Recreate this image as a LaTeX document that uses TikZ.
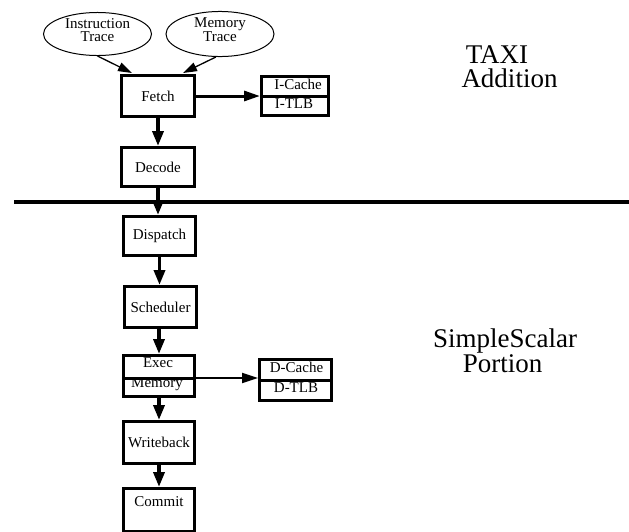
\documentclass[tikz,border=0pt]{standalone}
\usepackage{fontspec}
\setmainfont{Liberation Serif}
\usetikzlibrary{arrows.meta,shapes.geometric}
\tikzset{
  stagebox/.style={draw, line width=3pt, inner sep=0pt, minimum width=72pt, minimum height=41pt, font=\fontsize{15}{15}\selectfont},
  cachebox/.style={draw, line width=3pt, inner sep=0pt},
  tracenode/.style={draw, ellipse, line width=1pt, inner sep=0pt, minimum width=108pt, minimum height=41pt, align=center, font=\fontsize{15}{12.5}\selectfont},
  lbl/.style={inner sep=0pt, font=\fontsize{15}{15}\selectfont},
  big/.style={inner sep=0pt, anchor=base, font=\fontsize{27}{27}\selectfont},
  flow/.style={line width=3.5pt, -{Triangle[length=15pt,width=11pt]}},
  side/.style={line width=3pt, -{Triangle[length=16pt,width=10pt]}},
  sidethin/.style={line width=2pt, -{Triangle[length=16pt,width=10pt]}},
  thinarrow/.style={line width=1.3pt, -{Triangle[length=14pt,width=9pt]}},
}
\begin{document}
\begin{tikzpicture}[x=1pt,y=-1pt]
\useasboundingbox (0,0) rectangle (629,531);
\clip (0,0) rectangle (629,531);

% trace inputs
\node[tracenode, text depth=8pt] (it) at (97.5,34) {Instruction\\Trace};
\node[tracenode, text depth=8pt] (mt) at (220,34) {Memory\\Trace};

% stages
\node[stagebox, minimum width=73pt, minimum height=41pt] (fetch) at (158,96) {Fetch};
\node[stagebox, minimum width=73pt, minimum height=39pt] (decode) at (158,167) {Decode};
\node[stagebox, minimum width=72pt, minimum height=39pt] (dispatch) at (159.5,236) {Dispatch};
\node[stagebox, minimum width=72pt, minimum height=41pt] (sched) at (160.5,307) {Scheduler};
\node[stagebox, minimum width=71pt, minimum height=41pt] (exec) at (159,376) {};
\node[stagebox, minimum width=71pt, minimum height=42pt] (wb) at (159,442.5) {Writeback};
\node[stagebox, minimum width=71pt, minimum height=43pt, text depth=16pt] (commit) at (159,510) {Commit};

% exec / memory split
\draw[line width=3pt] ([yshift=-2pt]exec.west) -- ([yshift=-2pt]exec.east);
\node[lbl] (exect) at ([xshift=-1pt,yshift=13pt]exec.center) {Exec};
\node[lbl] (memt) at ([xshift=-2pt,yshift=-8pt]exec.center) {Memory};

% caches
\node[cachebox, minimum width=67pt, minimum height=39pt] (ic) at (295,96) {};
\draw[line width=3pt] (ic.west) -- (ic.east);
\node[lbl] (ict) at ([xshift=3pt,yshift=12pt]ic.center) {I-Cache};
\node[lbl] (itt) at ([xshift=-1pt,yshift=-8pt]ic.center) {I-TLB};

\node[cachebox, minimum width=72pt, minimum height=41pt] (dc) at (295.5,380) {};
\draw[line width=3pt] (dc.west) -- (dc.east);
\node[lbl] (dct) at ([xshift=1pt,yshift=13pt]dc.center) {D-Cache};
\node[lbl] (dtt) at ([xshift=0.5pt,yshift=-8pt]dc.center) {D-TLB};

% divider
\coordinate (dl) at (14,202);
\coordinate (dr) at (629,202);
\draw[line width=4pt] (dl) -- (dr);

% side labels
\node[big] (taxi) at (497,63) {TAXI};
\node[big] (addition) at (509.5,87) {Addition};
\node[big] (simple) at (505,347) {SimpleScalar};
\node[big] (portion) at (502.5,372) {Portion};

% connectors
\draw[thinarrow] (it.south) -- ([xshift=12pt,yshift=1pt]fetch.north west);
\draw[thinarrow] (mt.260) -- ([xshift=-13pt,yshift=1pt]fetch.north east);
\draw[side] (fetch.east) -- (ic.west);
\draw[flow] (fetch.south) -- (decode.north);
\draw[flow] (decode.south) -- (decode.south |- dispatch.north);
\draw[flow] (dispatch.south) -- (dispatch.south |- sched.north);
\draw[flow] (exec.north |- sched.south) -- (exec.north);
\draw[sidethin] ([yshift=-2pt]exec.east) -- ([yshift=-2pt]exec.east -| dc.west);
\draw[flow] (exec.south) -- (wb.north);
\draw[flow] (wb.south) -- (commit.north);
\end{tikzpicture}
\end{document}
